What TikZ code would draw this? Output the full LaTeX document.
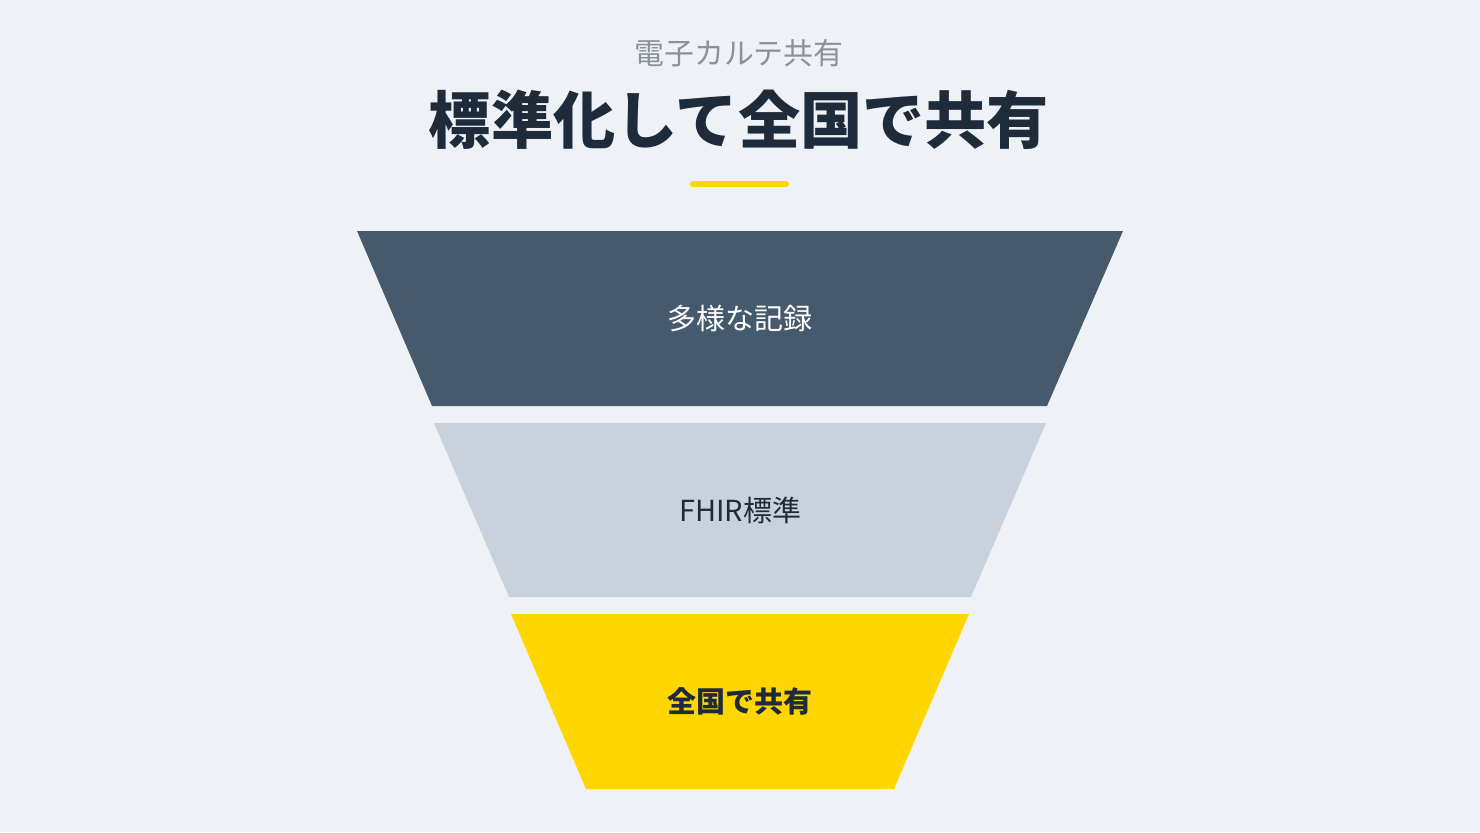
\documentclass[tikz,border=0pt]{standalone}
\usepackage{fontspec}
\setmainfont{Noto Sans CJK JP}
\usetikzlibrary{calc}
\definecolor{pagebg}{HTML}{EEF2F7}
\definecolor{tierdark}{HTML}{465A6E}
\definecolor{tierlight}{HTML}{C8D1DC}
\definecolor{tieryellow}{HTML}{FFD600}
\definecolor{inkdark}{HTML}{1E2B3A}
\definecolor{inkgray}{HTML}{8A9199}

\begin{document}
\begin{tikzpicture}[x=0.02cm,y=-0.02cm,
		tierlabel/.style={inner sep=0pt,font=\fontsize{16.5}{20}\selectfont}]
				\fill[pagebg] (0, 0) rectangle (1480, 832);
				
				\node[inner sep=0pt,text=inkgray,font=\fontsize{17}{20}\selectfont] (kicker) at (739, 53) {電子カルテ共有};
				\node[inner sep=0pt,text=inkdark,font=\bfseries\fontsize{35.4}{40}\selectfont] (headline) at (739, 120) {標準化して全国で共有};
				\draw[tieryellow,line width=0.12cm,line cap=round] (693, 184) -- (786, 184);
				
				\fill[tierdark] (357, 231) -- (1123, 231) -- (1047, 406) -- (432, 406) -- cycle;
				\fill[tierlight] (434, 423) -- (1046, 423) -- (971, 597) -- (509, 597) -- cycle;
				\fill[tieryellow] (511, 614) -- (969, 614) -- (894, 789) -- (586, 789) -- cycle;
				
				\node[tierlabel,text=white] (records) at (740, 318) {多様な記録};
				\node[tierlabel,text=inkdark] (fhir) at (740, 510) {FHIR標準};
				\node[tierlabel,text=inkdark,font=\bfseries\fontsize{16.5}{20}\selectfont] (shared) at (740, 701) {全国で共有};
\end{tikzpicture}
\end{document}
